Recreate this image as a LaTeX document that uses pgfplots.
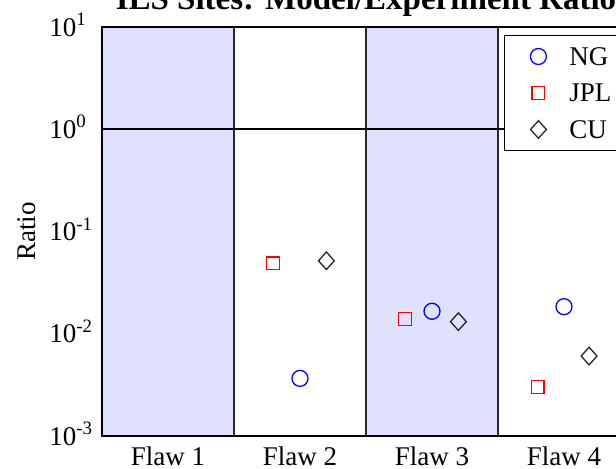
\documentclass[border=0pt]{standalone}
\usepackage{fontspec}
\setmainfont{Liberation Serif}
\usepackage{pgfplots}
\pgfplotsset{compat=1.18}
\definecolor{band}{RGB}{224,224,255}
\definecolor{edge}{RGB}{40,40,40}

\begin{document}
\begin{tikzpicture}
\begin{axis}[
  at={(0,0)}, anchor=south west,
  scale only axis, width=264pt, height=204.5pt,
  xmin=0.5, xmax=4.5,
  ymode=log, ymin=1e-3, ymax=10,
  axis on top,
  axis line style={line width=0.8pt, black},
  font=\fontsize{13.5}{16}\selectfont,
  xtick={1,2,3,4},
  xticklabels={Flaw 1, Flaw 2, Flaw 3, Flaw 4},
  ytick={1e-3,1e-2,1e-1,1,10},
  yticklabels={10\textsuperscript{-3},10\textsuperscript{-2},10\textsuperscript{-1},10\textsuperscript{0},10\textsuperscript{1}},
  major tick length=0pt, minor tick length=0pt,
  xticklabel style={anchor=base, yshift=-15pt, inner sep=0pt},
  yticklabel style={anchor=base west, inner sep=0pt, xshift=-26.5pt, yshift=-4.6pt},
  ylabel={Ratio},
  every axis y label/.style={at={(axis description cs:-0.12689,0.5)}, rotate=90, anchor=base},
  title={ILS Sites: Model/Experiment Ratio},
  every axis title/.style={at={(axis description cs:0.5,1)}, anchor=base, yshift=8.5pt,
    font=\bfseries\fontsize{16.5}{19.8}\selectfont},
  legend cell align=left,
  legend style={at={(axis description cs:0.7614,0.98044)}, anchor=north west,
    draw=black, line width=0.5pt, fill=white,
    inner xsep=12.96pt, inner ysep=4.65pt, row sep=6.55pt, column sep=11.5pt,
    font=\fontsize{13.5}{16}\selectfont,
    nodes={inner sep=0pt, text height=10.3pt, text depth=1.4pt}},
]
% shaded columns behind Flaw 1 and Flaw 3
\addplot[fill=band, draw=none, forget plot] coordinates {(0.5,1e-3) (1.5,1e-3) (1.5,10) (0.5,10)} -- cycle;
\addplot[fill=band, draw=none, forget plot] coordinates {(2.5,1e-3) (3.5,1e-3) (3.5,10) (2.5,10)} -- cycle;
% column separators
\addplot[edge, line width=0.7pt, forget plot] coordinates {(1.5,1e-3) (1.5,10)};
\addplot[edge, line width=0.7pt, forget plot] coordinates {(2.5,1e-3) (2.5,10)};
\addplot[edge, line width=0.7pt, forget plot] coordinates {(3.5,1e-3) (3.5,10)};
% unity reference line
\addplot[black, line width=1.1pt, forget plot] coordinates {(0.5,1) (4.5,1)};

% NG
\addplot[only marks, mark=o, mark size=4pt, blue, mark options={line width=0.65pt}]
  coordinates {(2,0.00366) (3,0.0166) (4,0.0184)};
% JPL
\addplot[only marks, mark=square, mark size=3.2pt, red, mark options={line width=0.65pt}]
  coordinates {(1.795,0.0489) (2.795,0.01392) (3.8,0.00303)};
% CU
\addplot[only marks, mark=diamond, mark size=4.4pt, black!85, mark options={line width=0.65pt, xscale=1.2}]
  coordinates {(2.2,0.0517) (3.2,0.01313) (4.19,0.00605)};
\legend{NG, JPL, CU}
\end{axis}
\pgfresetboundingbox
\path[use as bounding box] (-51pt,-16.5pt) rectangle (257pt,218pt);
\end{tikzpicture}
\end{document}
